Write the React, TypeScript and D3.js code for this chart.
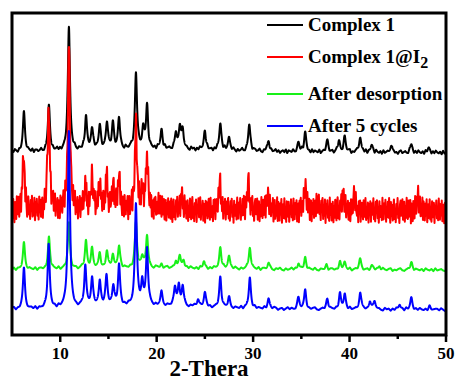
import React from 'react';
import * as d3 from 'd3';

const xTicks = [10, 20, 30, 40, 50];
const xMinorTicks = [15, 25, 35, 45];
const seriesNames = ['Complex 1', 'Complex 1@I', 'After desorption', 'After 5 cycles'];
const seriesColors = ['#000000', '#ff0000', '#18f018', '#0000ff'];
// vertical offset of each stacked pattern (intensity units)
const seriesOffsets = [182, 124, 65, 25];
const noiseAmp = [0.9, 1.3, 0.7, 0.7];
const noiseRate = [2, 3, 1.5, 1.5];

// [2θ, height]
const peaksComplex1 = [
  [6.24, 39], [8.83, 45], [10.9, 125], [12.67, 33], [13.3, 22], [14.1, 24], [14.84, 26],
  [15.46, 26], [16.1, 30], [17.85, 76], [18.6, 19], [19.0, 42], [20.5, 19], [22.0, 15],
  [22.4, 22], [22.7, 17], [25.0, 19], [26.6, 27], [27.5, 12], [29.6, 27], [31.6, 11],
  [34.7, 9], [35.4, 19], [37.7, 11], [38.9, 11], [39.5, 15], [41.1, 16], [42.3, 8],
  [44.3, 7], [46.4, 8], [48.2, 5],
];
const peaksComplex1I2 = [
  [6.2, 55], [8.8, 105], [10.9, 163], [12.6, 24], [13.3, 32], [14.1, 25], [14.8, 33],
  [15.5, 22], [16.1, 32], [17.85, 85], [18.5, 18], [19.0, 53], [20.3, 8], [22.6, 14],
  [26.55, 26], [29.5, 28], [31.5, 16], [35.4, 26], [36.7, 10], [39.3, 16], [40.5, 14],
  [47.1, 14],
];
const peaksDesorption = [
  [6.24, 26], [8.83, 31], [10.9, 45], [12.67, 27], [13.3, 19], [14.1, 14], [14.84, 16],
  [15.46, 14], [16.1, 22], [17.85, 45], [18.5, 11], [19.0, 32], [20.5, 4], [22.0, 7],
  [22.4, 11], [22.8, 7], [24.9, 7], [26.6, 21], [27.5, 12], [29.66, 22], [31.6, 6],
  [34.7, 6], [35.4, 11], [37.6, 4], [39.0, 7], [39.5, 7], [41.1, 10], [42.3, 4],
  [43.1, 4], [46.4, 7],
];
const peaksCycles = [
  [6.24, 40], [8.8, 63], [10.9, 177], [12.6, 41], [13.3, 29], [14.1, 26], [14.8, 30],
  [15.5, 20], [16.1, 41], [17.85, 102], [18.5, 22], [19.0, 56], [20.5, 13], [21.9, 19],
  [22.3, 19], [22.7, 19], [24.3, 8], [25.0, 14], [26.6, 30], [27.5, 10], [29.66, 31],
  [31.6, 10], [34.7, 11], [35.4, 18], [37.7, 10], [39.0, 15], [39.5, 15], [41.1, 17],
  [42.1, 8], [42.6, 8], [45.2, 5], [46.4, 12], [48.3, 3],
];
const seriesPeaks = [peaksComplex1, peaksComplex1I2, peaksDesorption, peaksCycles];

// broad amorphous humps [2θ, height, half-width]
const humpsComplex1 = [[20, 4, 10]];
const humpsComplex1I2 = [[20, 1, 10]];
const humpsDesorption = [[20, 2, 10]];
const humpsCycles = [[20, 4, 8]];
const seriesHumps = [humpsComplex1, humpsComplex1I2, humpsDesorption, humpsCycles];

const noiseRed = [
  4, -7, 9, -3, -10, 6, 1, -8, 10, -5,
  -2, 8, -9, 3, 7, -10, 5, -4, 9, -7,
  1, 6, -8, 9, -3, -10, 4, 8, -6, 2,
  -9, 7, -2, 10, -7, 3, -5, 9, -10, 5,
  -1, 8, -6, 2, -9, 10, -4, 6, -8, 1,
  7, -10, 3, -6, 9, -2, -8, 5, 10, -7,
  2, -9, 6, -3, 8, -10, 4, -1, 9, -6,
  -4, 10, -8, 3, -2, 7, -9, 5, 1, -10,
  8, -5, 6, -7, 2, 9, -3, -8, 10, -4,
  -6, 3, -10, 7, -1, 8, -9, 4, 6, -2,
  -7, 9, -5, 1, 10, -8, 3, -6, 7, -10,
  5, -3, 8, -9, 2, 6, -4, 10, -7, 0,
  -9, 7, -2, 9, -6, 3, -10, 8, -5, 4,
  1, -8, 10, -3, -7, 6, -1, 9, -9, 2,
  -5, 8, -6, 10, -2, -10, 7, -4, 5, -8,
  3, 9, -7, 1, -9, 6, -3, 10, -6, 2,
  -10, 5, 8, -4, -1, 9, -8, 3, 7, -9,
  4, -6, 10, -2, -7, 8, -5, 1, 9, -10,
  6, -3, -9, 7, 2, -8, 10, -4, -6, 5,
  -1, 9, -10, 3, 8, -7, 1, -5, 10, -9,
  7, -2, -8, 6, -4, 9, -10, 2, 5, -6,
  10, -7, 1, -9, 8, -3, -5, 7, -10, 4,
  -2, 9, -6, 3, -8, 10, -1, -7, 6, -4,
  8, -9, 2, 5, -10, 7, -3, 9, -6, 1,
];
const noiseSmall = [
  1, -1, 2, 0, -2, 1, -1, 0, 2, -1,
  -2, 1, 0, -1, 2, -2, 1, 1, -1, 0,
  2, -1, -2, 1, 0, 2, -1, -2, 1, -1,
  0, 2, -1, 1, -2, 0, 1, -1, 2, -2,
  1, 0, -1, 2, -1, -2, 1, 0, -1, 2,
  -2, 1, 1, -1, 0, -2, 2, -1, 1, 0,
  -1, 2, -2, 0, 1, -1, 2, 1, -2, 0,
  1, -2, 0, 2, -1, 1, -1, -2, 2, 0,
  -1, 1, 2, -2, 0, -1, 1, 2, -1, -2,
  0, 1, -1, 2, -2, 1, 0, -1, 1, -2,
  2, 0, -1, 1, -2, 2, -1, 0, 1, -1,
  -2, 2, 1, -1, 0, -2, 1, 2, -1, 0,
  1, -1, -2, 2, 0, 1, -2, 1, -1, 2,
  0, -1, 1, -2, 2, -1, 0, 1, -2, 1,
  -1, 2, 0, -1, 1, -2, 2, -1, 0, 1,
];
const seriesNoise = [noiseSmall, noiseRed, noiseSmall, noiseSmall];
const noiseShift = [0, 0, 37, 81];

const W = 457;
const H = 381;
const M = { left: 12, right: 446, top: 13, bottom: 335 };
const FONT = '"Liberation Serif", "Times New Roman", serif';
const GAMMA = 0.13;

function noiseAt(arr: number[], x: number, shift: number, rate: number) {
  const t = ((x - 5) / 45) * (arr.length - 1) * rate;
  const i = Math.floor(t);
  const f = t - i;
  const a = arr[(i + shift) % arr.length];
  const b = arr[(i + 1 + shift) % arr.length];
  return a + (b - a) * f;
}

export default function App() {
  const x = d3.scaleLinear().domain([5, 50]).range([M.left, M.right]);
  const y = d3.scaleLinear().domain([0, 323]).range([M.bottom, M.bottom - 323]);
  const grid = d3.range(5, 50.0001, 0.01);

  const paths = seriesNames.map((_, s) => {
    const pts = grid.map((tt) => {
      let v = seriesOffsets[s];
      for (const [p, h] of seriesPeaks[s]) v += (h * GAMMA * GAMMA) / ((tt - p) * (tt - p) + GAMMA * GAMMA);
      for (const [p, h, w] of seriesHumps[s]) v += (h * w * w) / ((tt - p) * (tt - p) + w * w);
      v += noiseAt(seriesNoise[s], tt, noiseShift[s], noiseRate[s]) * noiseAmp[s];
      return [tt, v] as [number, number];
    });
    return d3.line<[number, number]>().x((d) => x(d[0])).y((d) => y(d[1]))(pts) || '';
  });

  const legendY = [25, 57, 94, 126];

  return (
    <svg width={W} height={H} style={{ position: 'fixed', left: 0, top: 0, background: '#fff' }}>
      <rect x={0} y={0} width={W} height={H} fill="#fff" />
      {paths.map((d, i) => (
        <path key={i} d={d} fill="none" stroke={seriesColors[i]} strokeWidth={2} strokeLinejoin="round" />
      ))}
      <rect x={M.left} y={M.top} width={M.right - M.left} height={M.bottom - M.top} fill="none" stroke="#000" strokeWidth={3} />
      {xTicks.map((t) => (
        <g key={t}>
          <line x1={x(t)} x2={x(t)} y1={M.bottom} y2={M.bottom + 7} stroke="#000" strokeWidth={2.5} />
          <text x={x(t)} y={359} textAnchor="middle" fontFamily={FONT} fontWeight="bold" fontSize={17} fill="#000">
            {t}
          </text>
        </g>
      ))}
      {xMinorTicks.map((t) => (
        <line key={t} x1={x(t)} x2={x(t)} y1={M.bottom} y2={M.bottom + 4} stroke="#000" strokeWidth={2.5} />
      ))}
      <text x={209} y={376} textAnchor="middle" fontFamily={FONT} fontWeight="bold" fontSize={23} fill="#000">
        2-Thera
      </text>
      {seriesNames.map((n, i) => (
        <g key={n}>
          <line x1={267} x2={303} y1={legendY[i]} y2={legendY[i]} stroke={seriesColors[i]} strokeWidth={2} />
          <text x={308} y={legendY[i] + 6} fontFamily={FONT} fontWeight="bold" fontSize={19} fill="#000">
            {n}
            {i === 1 ? (
              <tspan dy={5} fontSize={16}>2</tspan>
            ) : null}
          </text>
        </g>
      ))}
    </svg>
  );
}
